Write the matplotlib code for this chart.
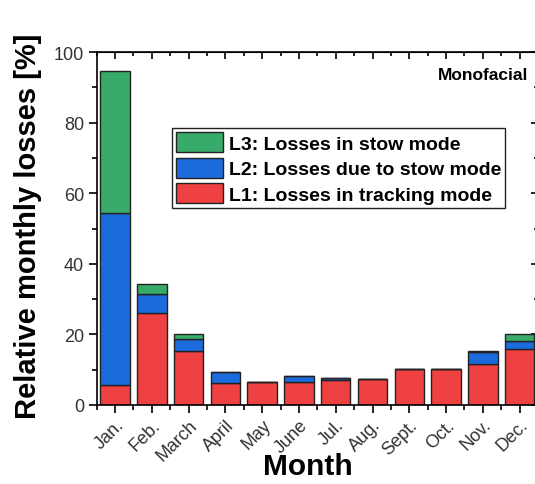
import matplotlib
matplotlib.use("Agg")
import matplotlib.pyplot as plt
import numpy as np
from matplotlib.ticker import MultipleLocator, FixedLocator

plt.rcParams['font.family'] = ['Liberation Sans', 'DejaVu Sans']

months = ["Jan.", "Feb.", "March", "April", "May", "June", "Jul.", "Aug.",
          "Sept.", "Oct.", "Nov.", "Dec."]
L1 = [5.7, 26.2, 15.2, 6.1, 6.4, 6.4, 7.0, 7.3, 10.3, 10.3, 11.5, 16.0]
L2 = [48.7, 5.2, 3.4, 3.3, 0.0, 1.7, 0.6, 0.0, 0.0, 0.0, 3.6, 2.0]
L3 = [40.3, 3.0, 1.5, 0.0, 0.0, 0.0, 0.0, 0.0, 0.0, 0.0, 0.3, 2.1]

c_red = "#EF4142"
c_blue = "#1B6BDD"
c_green = "#38AB6B"
edge = "#222222"

W, H = 535, 485
fig = plt.figure(figsize=(W / 100, H / 100), dpi=100)
ax = fig.add_axes([96.7 / W, (H - 406) / H, (538 - 96.7) / W, (406 - 53) / H])

x = np.arange(len(months))
b1 = ax.bar(x, L1, width=0.8, color=c_red, edgecolor=edge, linewidth=1.0,
            label="L1: Losses in tracking mode")
bottom2 = np.array(L1)
b2 = ax.bar(x, L2, width=0.8, bottom=bottom2, color=c_blue, edgecolor=edge,
            linewidth=1.0, label="L2: Losses due to stow mode")
bottom3 = bottom2 + np.array(L2)
b3 = ax.bar(x, L3, width=0.8, bottom=bottom3, color=c_green, edgecolor=edge,
            linewidth=1.0, label="L3: Losses in stow mode")

ax.set_xlim(-0.5, len(months) - 0.5)
ax.set_ylim(0, 100)

ax.set_xticks(x)
ax.set_xticklabels(months, rotation=45, ha="right", rotation_mode="anchor",
                   fontsize=13, color="#333333")
ax.xaxis.set_minor_locator(FixedLocator(np.arange(-0.5, len(months), 1.0)))
ax.yaxis.set_major_locator(MultipleLocator(20))
ax.yaxis.set_minor_locator(MultipleLocator(10))
for lbl in ax.get_yticklabels():
    lbl.set_fontsize(13)
    lbl.set_color("#333333")

ax.tick_params(axis="both", which="major", direction="out", length=6, width=1.2,
               top=False, right=False, pad=3)
ax.tick_params(axis="both", which="minor", direction="out", length=3.5, width=1.2,
               top=False, right=False)
ax.tick_params(axis="x", which="major", pad=2)

# inward ticks on top and right
ax_t = ax.secondary_xaxis("top")
ax_t.set_xticks(x)
ax_t.set_xticklabels([])
ax_t.xaxis.set_minor_locator(FixedLocator(np.arange(-0.5, len(months), 1.0)))
ax_t.tick_params(which="major", direction="in", length=5, width=1.2)
ax_t.tick_params(which="minor", direction="in", length=3, width=1.2)
ax_r = ax.secondary_yaxis("right")
ax_r.yaxis.set_major_locator(MultipleLocator(20))
ax_r.yaxis.set_minor_locator(MultipleLocator(10))
ax_r.set_yticklabels([])
ax_r.tick_params(which="major", direction="in", length=5, width=1.2)
ax_r.tick_params(which="minor", direction="in", length=3, width=1.2)

for sp in ax.spines.values():
    sp.set_linewidth(1.2)

ax.set_xlabel("Month", fontsize=21.5, fontweight="bold")
ax.xaxis.set_label_coords((308 - 96.7) / (538 - 96.7), -(467 - 406) / (406 - 53))
ax.xaxis.label.set_va("center")
ax.set_ylabel("Relative monthly losses [%]", fontsize=21, fontweight="bold")
ax.yaxis.set_label_coords(-(96.7 - 28) / (538 - 96.7), (406 - 226) / (406 - 53))
ax.yaxis.label.set_va("center")

ax.text((528 - 96.7) / (538 - 96.7), 0.935, "Monofacial", transform=ax.transAxes,
        ha="right", va="center", fontsize=12.5, fontweight="bold")

leg = ax.legend(handles=[b3, b2, b1], loc="upper left",
                bbox_to_anchor=((172 - 96.7) / (538 - 96.7), (406 - 129) / (406 - 53)),
                prop={"size": 14, "weight": "bold"}, frameon=True, fancybox=False,
                edgecolor="#222222", framealpha=1, handlelength=2.4,
                handleheight=1.2, handletextpad=0.3, labelspacing=0.25,
                borderpad=0.22, borderaxespad=0)
leg.get_frame().set_linewidth(1.0)

fig.savefig("out.png", dpi=100)
